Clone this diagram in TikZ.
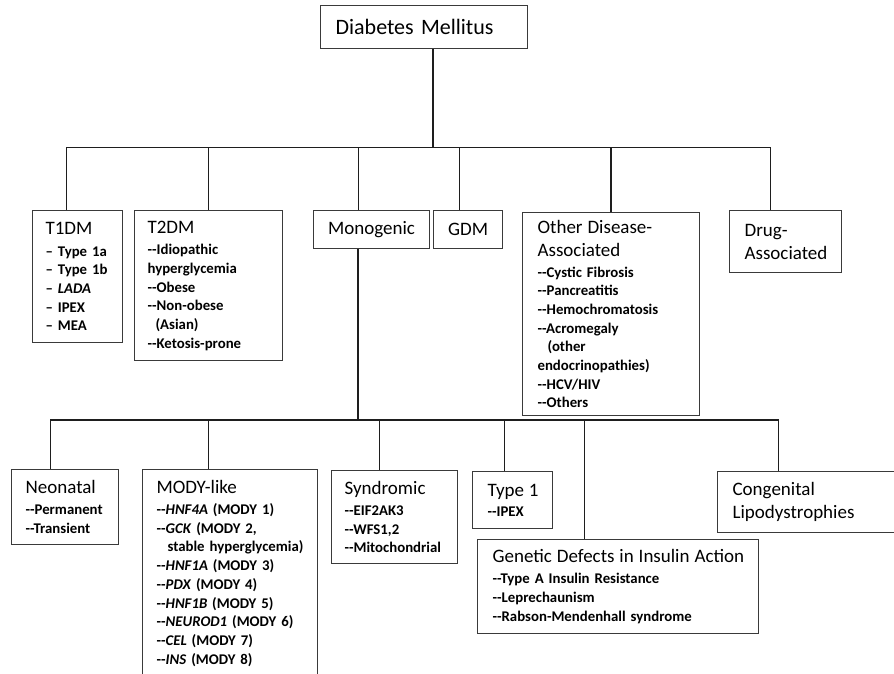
\documentclass[tikz,border=0pt]{standalone}
\usepackage{fontspec}
\setmainfont{Carlito}
\usepackage{tikz}
\setlength{\parindent}{0pt}
\newcommand{\ttl}[1]{{\fontsize{19}{23}\selectfont\mdseries\mbox{#1}\par}}
\definecolor{linecol}{HTML}{1E1E1E}
\definecolor{boxcol}{HTML}{3A3A3A}

\begin{document}
\begin{tikzpicture}[x=1pt, y=-1pt,
	cat/.style = {draw=boxcol, line width=1.2pt, anchor=north west, align=left, inner xsep=14pt, inner ysep=4pt, font=\fontsize{14.8}{18.7}\selectfont\bfseries},
	one/.style = {draw=boxcol, line width=1.2pt, anchor=north west, align=center, inner sep=0pt, font=\fontsize{19}{23}\selectfont},
	link/.style = {line width=1.4pt, draw=linecol},
	trunk/.style = {line width=2.2pt, draw=linecol}]
		\useasboundingbox (0,0) rectangle (894,673);
		
		\node[cat, font=\fontsize{22}{26}\selectfont, inner xsep=15pt, text width=177pt, minimum height=43pt] (1) at (320,5) {Diabetes Mellitus};
		
		\node[cat, inner xsep=13pt, text width=64pt, minimum height=132pt] (2) at (32,210) {\ttl{T1DM}\vspace{3pt}
			–~Type~1a\\ –~Type~1b\\ –~\textit{LADA}\\ –~IPEX\\ –~MEA};
		\node[cat, inner xsep=13pt, text width=122pt, minimum height=150pt] (3) at (134,210) {\ttl{T2DM}\vspace{3pt}
			-{}-Idiopathic\\ hyperglycemia\\ -{}-Obese\\ -{}-Non-obese\\ \hspace*{8pt}(Asian)\\ -{}-Ketosis-prone};
		\node[one, minimum width=116pt, minimum height=38pt] (4) at (313,210) {Monogenic};
		\node[one, minimum width=69pt, minimum height=38pt] (5) at (433,210) {GDM};
		\node[cat, inner xsep=15pt, text width=147pt, minimum height=203pt] (6) at (522,212) {\ttl{Other Disease-}\ttl{Associated}\vspace{2pt}
			-{}-Cystic Fibrosis\\ -{}-Pancreatitis\\ -{}-Hemochromatosis\\ -{}-Acromegaly\\ \hspace*{10pt}(other\\ endocrinopathies)\\ -{}-HCV/HIV\\ -{}-Others};
		\node[cat, inner xsep=15pt, text width=82pt, minimum height=62pt] (7) at (729,210) {\ttl{Drug-}\ttl{Associated}};
		
		\node[cat, text width=79pt, minimum height=75pt] (8) at (11,469) {\ttl{Neonatal}\vspace{2pt}
			-{}-Permanent\\ -{}-Transient};
		\node[cat, text width=147pt, inner ysep=11pt] (9) at (142,469) {\ttl{MODY-like}\vspace{2pt}
			-{}-\textit{HNF4A} (MODY~1)\\ -{}-\textit{GCK} (MODY~2,\\ \hspace*{11pt}stable hyperglycemia)\\ -{}-\textit{HNF1A} (MODY~3)\\ -{}-\textit{PDX} (MODY~4)\\ -{}-\textit{HNF1B} (MODY~5)\\ -{}-\textit{NEUROD1} (MODY~6)\\ -{}-\textit{CEL} (MODY~7)\\ -{}-\textit{INS} (MODY~8)};
		\node[cat, inner xsep=13pt, text width=100pt, minimum height=93pt] (10) at (331,470) {\ttl{Syndromic}\vspace{2pt}
			-{}-EIF2AK3\\ -{}-WFS1,2\\ -{}-Mitochondrial};
		\node[cat, inner xsep=15pt, text width=50pt, minimum height=57pt] (11) at (472,471) {\ttl{Type 1}\vspace{1pt}
			-{}-IPEX};
		\node[cat, inner xsep=15pt, text width=251pt, minimum height=94pt] (12) at (477,539) {\ttl{Genetic Defects in Insulin Action}\vspace{2pt}
			-{}-Type A Insulin Resistance\\ -{}-Leprechaunism\\ -{}-Rabson-Mendenhall syndrome};
		\node[cat, inner xsep=15pt, text width=155pt, minimum height=61pt] (13) at (717,471) {\ttl{Congenital}\ttl{Lipodystrophies}};
		
		% branch points
		\coordinate (t) at (433,147.5);
		\coordinate (m) at (358,420);
		
		\draw[trunk] (1.south -| t) -- (t);
		\draw[link] (t) -| ([xshift=-11pt]2.north);
		\draw[link] (t) -| (3.north);
		\draw[link] (t) -| ([xshift=-13pt]4.north);
		\draw[link] (t) -| ([xshift=-8.5pt]5.north);
		\draw[link] (t) -| (6.north);
		\draw[link] (t) -| ([xshift=-15pt]7.north);
		
		\draw[trunk] (4.south -| m) -- (m);
		\draw[link] (m) -| ([xshift=-14.5pt]8.north);
		\draw[link] (m) -| ([xshift=-21.5pt]9.north);
		\draw[link] (m) -| ([xshift=-15pt]10.north);
		\draw[link] (m) -| ([xshift=-8pt]11.north);
		\draw[link] (m) -| ([xshift=-33.5pt]12.north);
		\draw[link] (m) -| ([xshift=-31.5pt]13.north);

	\end{tikzpicture}
\end{document}
